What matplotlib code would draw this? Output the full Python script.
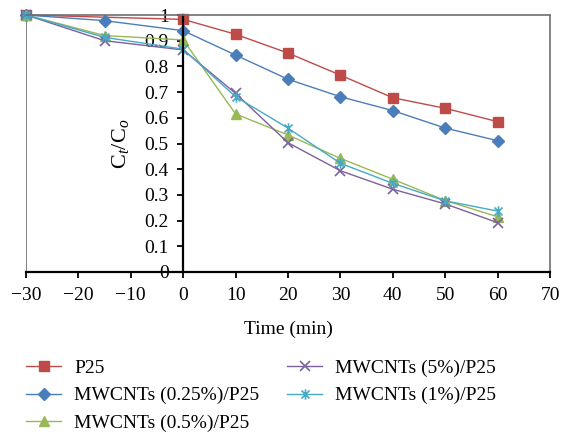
import matplotlib
matplotlib.use("Agg")
import matplotlib.pyplot as plt
from matplotlib.path import Path

plt.rcParams['font.family'] = ['Liberation Serif', 'DejaVu Serif']
plt.rcParams['mathtext.fontset'] = 'custom'
plt.rcParams['mathtext.rm'] = 'Liberation Serif'
plt.rcParams['mathtext.it'] = 'Liberation Serif:italic'

time = [-30, -15, 0, 10, 20, 30, 40, 50, 60]
time_p25 = [-30, 0, 10, 20, 30, 40, 50, 60]
p25 = [1.0, 0.983, 0.925, 0.852, 0.766, 0.678, 0.637, 0.585]
mw025 = [1.0, 0.978, 0.939, 0.844, 0.750, 0.682, 0.628, 0.560, 0.511]
mw05 = [1.0, 0.920, 0.903, 0.615, 0.533, 0.442, 0.361, 0.278, 0.215]
mw5 = [1.0, 0.900, 0.864, 0.695, 0.503, 0.394, 0.322, 0.265, 0.192]
mw1 = [1.0, 0.913, 0.867, 0.682, 0.560, 0.423, 0.345, 0.277, 0.237]

labels = ['P25', 'MWCNTs (0.25%)/P25', 'MWCNTs (0.5%)/P25',
          'MWCNTs (5%)/P25', 'MWCNTs (1%)/P25']
xticks = [-30, -20, -10, 0, 10, 20, 30, 40, 50, 60, 70]
yticks = [0, 0.1, 0.2, 0.3, 0.4, 0.5, 0.6, 0.7, 0.8, 0.9, 1.0]

star = Path([(-1, -1), (1, 1), (-1, 1), (1, -1), (0, -1.3), (0, 1.3)],
            [Path.MOVETO, Path.LINETO, Path.MOVETO, Path.LINETO, Path.MOVETO, Path.LINETO])

FS = 14

fig = plt.figure(figsize=(5.61, 4.32), dpi=100)
ax = fig.add_axes([26/561, 1-272/432, 524/561, 257/432])

lw = 1.0
h1, = ax.plot(time_p25, p25, color='#BE4B48', marker='s', ms=7.3, lw=lw, label=labels[0])
h2, = ax.plot(time, mw025, color='#4A7EBB', marker='D', ms=6.0, lw=lw, label=labels[1])
h3, = ax.plot(time, mw05, color='#98B954', marker='^', ms=7.5, lw=lw, label=labels[2])
h4, = ax.plot(time, mw5, color='#7D60A0', marker='x', ms=7.5, mew=1.2, lw=lw, label=labels[3])
h5, = ax.plot(time, mw1, color='#46AAC5', marker=star, ms=7.5, mew=1.2, lw=lw, label=labels[4])

for h in (h1, h2, h3, h4, h5):
    h.set_clip_on(False)

ax.set_xlim(-30, 70)
ax.set_ylim(0, 1)
ax.set_xticks(xticks)
ax.set_yticks(yticks)
ax.set_yticklabels(['%g' % v for v in yticks])

ax.spines['left'].set_position(('data', 0))
ax.spines['left'].set_color('black')
ax.spines['left'].set_linewidth(1.6)
ax.spines['bottom'].set_color('black')
ax.spines['bottom'].set_linewidth(1.6)
for s in ('top', 'right'):
    ax.spines[s].set_color('#6e6e6e')
    ax.spines[s].set_linewidth(1.2)
ax.axvline(-30, color='#6e6e6e', lw=1.2, zorder=0.5)

ax.tick_params(axis='y', direction='out', length=4.5, width=1.3, pad=6, labelsize=FS)
ax.tick_params(axis='x', direction='out', length=4, width=1.3, pad=7, labelsize=FS)

ax.set_xlabel('Time (min)', fontsize=FS)
ax.xaxis.set_label_coords(0.5, -0.188)
ax.set_ylabel(r'$\mathrm{C}_{t}/\mathrm{C}_{o}$', fontsize=16)
ax.yaxis.set_label_coords(0.20, 0.50)

fig.legend(handles=[h1, h2, h3, h4, h5], labels=labels, ncol=2,
           loc='upper left', bbox_to_anchor=(26/561, 1-359/432),
           frameon=False, fontsize=FS, handlelength=1.8, handletextpad=0.67,
           labelspacing=0.52, columnspacing=1.45, borderpad=0, borderaxespad=0)

fig.savefig('out.png', dpi=100)
